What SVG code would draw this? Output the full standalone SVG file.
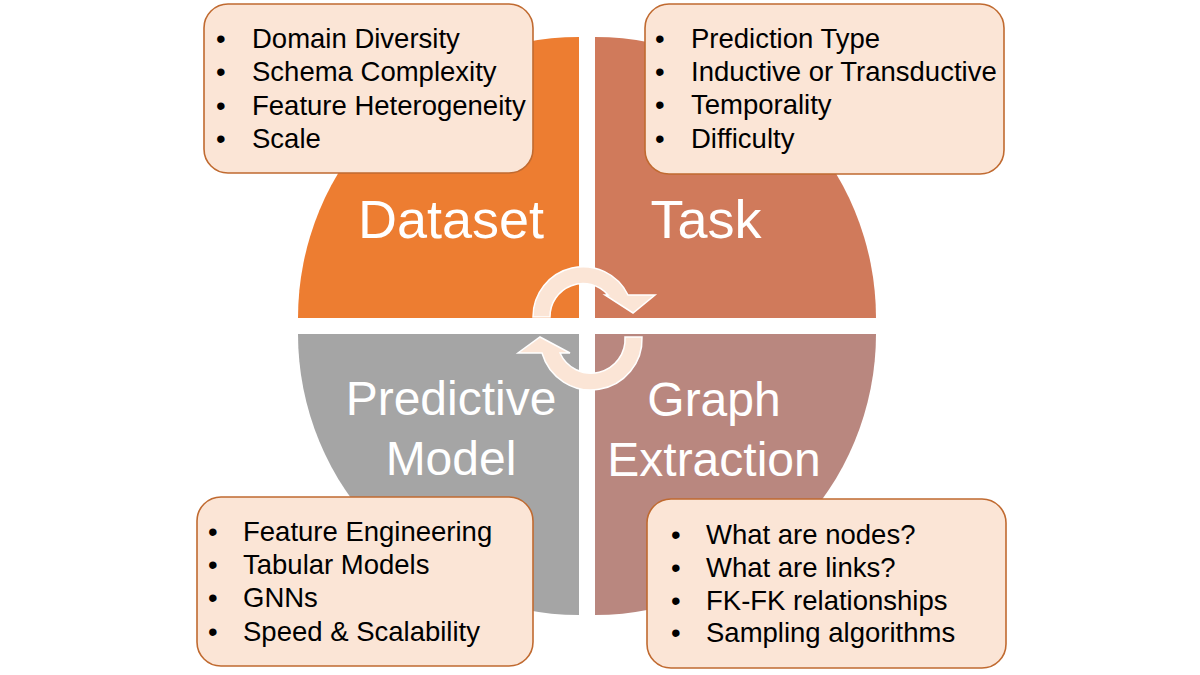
<svg xmlns="http://www.w3.org/2000/svg" width="1200" height="675" viewBox="0 0 1200 675">
<style>
.lbl{font-family:"Liberation Sans",Arial,sans-serif;fill:#ffffff;text-anchor:middle}
.big{font-size:54px}
.mid{font-size:48px}
.box{fill:#FBE5D6;stroke:#C06A30;stroke-width:1.6}
.txt{font-family:"Liberation Sans",Arial,sans-serif;font-size:27.5px;fill:#000000}
.arr{fill:#FBE5D6;stroke:#ffffff;stroke-width:1.5;stroke-linejoin:miter}
</style>
<rect width="1200" height="675" fill="#ffffff"/>
<g id="dataset">
<path d="M579 318 L298 318 A281 281 0 0 1 579 37 Z" fill="#ED7D31"/>
<text class="lbl big" x="451" y="238">Dataset</text>
</g>
<g id="task">
<path d="M595 318 L595 37 A281 281 0 0 1 876 318 Z" fill="#D07A5B"/>
<text class="lbl big" x="706" y="238">Task</text>
</g>
<g id="predictive-model">
<path d="M579 334 L579 615 A281 281 0 0 1 298 334 Z" fill="#A5A5A5"/>
<text class="lbl mid" x="451" y="415">Predictive</text>
<text class="lbl mid" x="451" y="475">Model</text>
</g>
<g id="graph-extraction">
<path d="M595 334 L876 334 A281 281 0 0 1 595 615 Z" fill="#B9877F"/>
<text class="lbl mid" x="714" y="416">Graph</text>
<text class="lbl mid" x="714" y="476">Extraction</text>
</g>
<g id="connectors">
<path class="arr" d="M533 317 A50 50 0 0 1 628 295 L655 295 L633 313 L605 295 L608 295 A33 33 0 0 0 550 317 Z"/>
<path class="arr" d="M642 337 A51 51 0 0 1 542 353 L518 353 L540 337 L570 353 L560 353 A34 34 0 0 0 625 337 Z"/>
</g>
<g id="dataset-box">
<rect class="box" x="204" y="4" width="329" height="169" rx="24"/>
<text class="txt" x="216" y="48">•</text><text class="txt" x="252" y="48">Domain Diversity</text>
<text class="txt" x="216" y="81">•</text><text class="txt" x="252" y="81">Schema Complexity</text>
<text class="txt" x="216" y="115">•</text><text class="txt" x="252" y="115">Feature Heterogeneity</text>
<text class="txt" x="216" y="148">•</text><text class="txt" x="252" y="148">Scale</text>
</g>
<g id="task-box">
<rect class="box" x="645" y="4" width="359" height="170" rx="24"/>
<text class="txt" x="655" y="48">•</text><text class="txt" x="691" y="48">Prediction Type</text>
<text class="txt" x="655" y="81">•</text><text class="txt" x="691" y="81">Inductive or Transductive</text>
<text class="txt" x="655" y="114">•</text><text class="txt" x="691" y="114">Temporality</text>
<text class="txt" x="655" y="148">•</text><text class="txt" x="691" y="148">Difficulty</text>
</g>
<g id="model-box">
<rect class="box" x="197" y="497" width="336" height="169" rx="24"/>
<text class="txt" x="208" y="541">•</text><text class="txt" x="243" y="541">Feature Engineering</text>
<text class="txt" x="208" y="574">•</text><text class="txt" x="243" y="574">Tabular Models</text>
<text class="txt" x="208" y="607">•</text><text class="txt" x="243" y="607">GNNs</text>
<text class="txt" x="208" y="641">•</text><text class="txt" x="243" y="641">Speed &amp; Scalability</text>
</g>
<g id="graph-box">
<rect class="box" x="647" y="499" width="359" height="169" rx="24"/>
<text class="txt" x="671" y="544">•</text><text class="txt" x="706" y="544">What are nodes?</text>
<text class="txt" x="671" y="577">•</text><text class="txt" x="706" y="577">What are links?</text>
<text class="txt" x="671" y="610">•</text><text class="txt" x="706" y="610">FK-FK relationships</text>
<text class="txt" x="671" y="642">•</text><text class="txt" x="706" y="642">Sampling algorithms</text>
</g>
</svg>
